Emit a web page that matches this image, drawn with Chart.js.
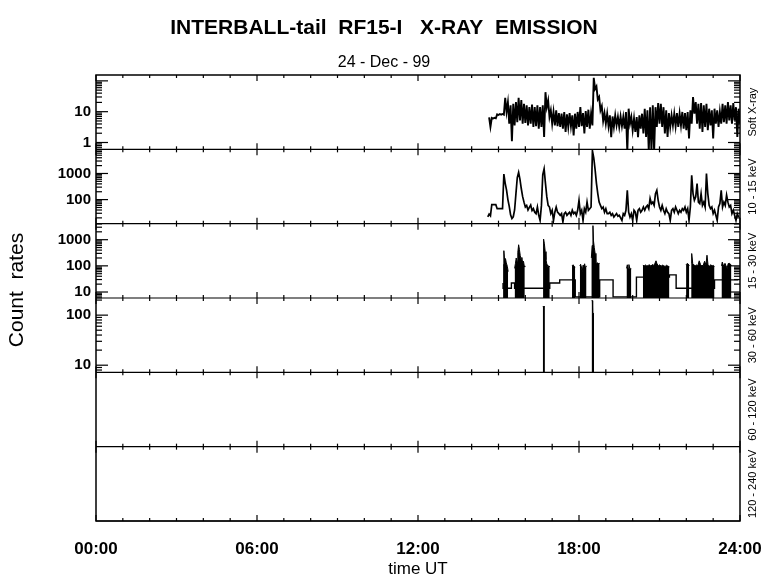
<!DOCTYPE html>
<html lang="en">
<head>
<meta charset="utf-8">
<title>INTERBALL-tail RF15-I X-RAY EMISSION</title>
<script src="https://cdn.jsdelivr.net/npm/chart.js@4.4.1/dist/chart.umd.min.js"></script>
<style>
  body { margin: 0; background: #fff; }
</style>
</head>
<body>
<canvas id="xray" width="780" height="579"></canvas>
<script>
// ---- data, time in hours UT ----
const hourTicks = [0, 6, 12, 18, 24];
const panelNames = ['Soft X-ray', '10 - 15 keV', '15 - 30 keV', '30 - 60 keV', '60 - 120 keV', '120 - 240 keV'];

// Soft X-ray: high / low swing of the noisy trace, every 0.1 h from 14.65
// (the low value is taken half a step later)
const sxStart = 14.65, sxStep = 0.1;
const sxUpper = [6.5, 6.3, 6.3, 8.2, 8.4, 8.4, 28, 20, 16, 18,
  20.5, 28, 24, 18, 16, 14, 17, 14, 16, 14,
  16, 43, 23, 11, 9.8, 11, 9, 8.6, 9.8, 8.2,
  9, 7.6, 8.6, 9.8, 14, 9, 10.5, 11.6, 8.6, 125,
  66, 30, 15, 9, 8.6, 7.6, 7, 7.6, 6.7, 7,
  6.7, 9.8, 12.5, 6.7, 6, 6.7, 7.6, 8.6, 12.5, 11,
  14, 16, 14, 19, 18, 14, 11, 9, 7.6, 8.6,
  9, 8.6, 9.8, 9, 9.8, 11, 30, 20.5, 18, 19,
  16, 18, 12.5, 11, 12.5, 11, 9.8, 18, 16, 20.5,
  16, 19, 14, 12.5];
const sxLower = [3.2, 6.0, 6.1, 7.8, 8.0, 8.0, 9.7, 4.1, 1.1, 3.6,
  4.6, 5.2, 4.1, 4.3, 3.6, 4.1, 3.2, 3.4, 2.8, 3.2,
  1.5, 14, 6.7, 4.1, 3.6, 3.4, 3.2, 2.8, 2.2, 3.2,
  3.4, 1.7, 2.8, 3.2, 3.4, 1.95, 3.2, 2.8, 3.6, 55,
  25, 11, 5, 4.1, 3.4, 1.5, 3.2, 3.6, 3.2, 3.4,
  2.8, 0.5, 4.1, 2.5, 2.2, 1.5, 2.8, 1.95, 1.5, 0.5,
  0.5, 0.5, 3.2, 4.1, 3.2, 1.95, 1.5, 3.2, 3.6, 3.4,
  3.2, 3.6, 2.8, 2.5, 1.35, 4.1, 8.6, 4.1, 2.8, 2.2,
  3.2, 2.5, 3.6, 1.35, 4.1, 3.2, 4.1, 4.6, 4.1, 5.2,
  4.1, 5.2, 1.5, 4.1];

// 10 - 15 keV, every 0.05 h from 14.60
const lowStart = 14.60, lowStep = 0.05;
const lowRate = [22, 28, 24, 64, 64, 64, 64, 45, 45, 45,
  45, 45, 950, 420, 230, 100, 55, 26, 19, 22,
  40, 170, 700, 1100, 600, 260, 130, 80, 52, 60,
  40, 50, 62, 38, 45, 33, 29, 52, 25, 16,
  60, 900, 1500, 420, 130, 60, 52, 29, 39, 16,
  33, 52, 33, 29, 25, 29, 14, 29, 33, 25,
  29, 33, 25, 39, 29, 33, 25, 39, 94, 29,
  39, 16, 45, 33, 80, 39, 45, 52, 7500, 4000,
  1400, 420, 170, 80, 60, 45, 52, 33, 45, 29,
  29, 33, 25, 29, 21.5, 25, 29, 23, 25, 20,
  16, 29, 25, 39, 228, 33, 21.5, 29, 16, 39,
  33, 16, 39, 45, 33, 39, 52, 39, 52, 60,
  45, 110, 70, 80, 60, 170, 228, 94, 52, 39,
  60, 39, 29, 45, 33, 29, 16, 39, 45, 33,
  52, 39, 29, 39, 33, 45, 39, 52, 33, 45,
  16, 52, 860, 170, 94, 127, 412, 80, 70, 170,
  60, 80, 52, 1000, 170, 60, 45, 52, 29, 39,
  25, 16, 52, 70, 228, 52, 80, 60, 148, 80,
  52, 60, 29, 39, 25, 16, 29, 21.5];

// 15 - 30 keV: tops of the dense bursts (null = gap) and the stepped background
const midBurstT = [15.17, 15.20, 15.23, 15.26, 15.29, 15.33, 15.36, null,
  15.60, 15.63, 15.66, 15.69, 15.72, 15.75, 15.78, 15.81, 15.84, 15.87, 15.90, 15.93, 15.96, 15.98, null,
  16.66, 16.68, 16.71, 16.74, 16.77, 16.80, 16.84, 16.88, 16.91, null,
  17.74, 17.78, 17.82, 17.86, null,
  18.03, 18.06, 18.09, 18.12, 18.15, 18.18, 18.21, 18.24, 18.28, null,
  18.46, 18.49, 18.52, 18.54, 18.57, 18.60, 18.63, 18.66, 18.70, 18.74, 18.77, null,
  19.77, 19.80, 19.83, 19.86, 19.89, 19.92, 19.95, null,
  20.38, 20.43, 20.48, 20.53, 20.58, 20.63, 20.68, 20.73, 20.78, 20.83, 20.87,
  20.91, 20.96, 21.01, 21.06, 21.11, 21.16, 21.21, 21.26, 21.31, 21.37, null,
  21.99, 22.03, 22.07, 22.11, null,
  22.18, 22.20, 22.24, 22.28, 22.33, 22.38, 22.43, 22.48, 22.53, 22.58, 22.63,
  22.68, 22.73, 22.77, 22.81, 22.86, 22.91, 22.96, 23.01, 23.05, null,
  23.31, 23.34, 23.37, 23.40, 23.44, 23.48, 23.52, 23.56, 23.60, 23.64, 23.68];
const midBurstV = [110, 380, 150, 190, 130, 95, 60, null,
  80, 120, 200, 150, 330, 640, 420, 250, 180, 210, 130, 150, 100, 90, null,
  300, 1060, 700, 350, 170, 120, 95, 100, 90, null,
  100, 110, 95, 90, null,
  100, 115, 90, 60, 105, 95, 120, 85, 100, null,
  200, 600, 3450, 900, 500, 300, 130, 125, 130, 120, 125, null,
  80, 110, 80, 112, 80, 80, 78, null,
  105, 100, 108, 98, 104, 110, 97, 112, 104, 125, 156,
  118, 100, 110, 96, 108, 100, 95, 105, 98, 92, null,
  110, 123, 118, 100, null,
  130, 296, 120, 110, 100, 108, 102, 156, 112, 100, 106,
  150, 110, 255, 105, 98, 110, 100, 104, 95, null,
  100, 140, 110, 95, 125, 100, 80, 122, 125, 118, 100];
const midStepT = [15.17, 15.48, 15.60, 16.91, 17.28, 17.86, 18.77, 19.27, 20.14, 21.37, 21.62, 23.05, 23.17, 23.94];
const midStepV = [22, 14, 22, 14, 22, 29, 6.5, 29, 6.5, 37, 45, 14, 29, 29];

// 30 - 60 keV: two short spikes
const hiT = [16.65, 16.73, null, 18.47, 18.50, 18.51, 18.56];
const hiV = [148, 148, null, 195, 195, 108, 108];

const FONT = "'Liberation Sans', Arial, Helvetica, sans-serif";

function grid(start, step, vals) {
  return vals.map((v, i) => ({ x: +(start + i * step).toFixed(2), y: v }));
}
function pairs(ts, vs) {
  return ts.map((t, i) => ({ x: t, y: vs[i] }));
}
// high value at each sample, low value half a step later
function swing(start, step, hi, lo) {
  const pts = [];
  hi.forEach((v, i) => {
    const t = start + i * step;
    pts.push({ x: +t.toFixed(3), y: v });
    pts.push({ x: +(t + step / 2).toFixed(3), y: lo[i] });
  });
  return pts;
}

function logAxis(min, max, labelled) {
  return {
    type: 'logarithmic', position: 'left', stack: 'panels', stackWeight: 1,
    min: min, max: max,
    grid: { display: false, drawTicks: false },
    border: { display: false },
    ticks: { color: '#000', font: { family: FONT, size: 15, weight: 'bold' }, padding: 5,
             autoSkip: false, callback: v => String(v) },
    afterBuildTicks: s => { s.ticks = labelled.map(v => ({ value: v })); },
    afterFit: s => { s.width = 96; }
  };
}
function emptyAxis() {
  return {
    type: 'linear', position: 'left', stack: 'panels', stackWeight: 1,
    min: 0, max: 1,
    grid: { display: false, drawTicks: false },
    border: { display: false },
    ticks: { display: false },
    afterFit: s => { s.width = 96; }
  };
}

const panelIds = ['p1', 'p2', 'p3', 'p4', 'p5', 'p6'];

const panelPlugin = {
  id: 'panels',
  beforeDatasetDraw(chart, args) {
    const s = chart.scales[args.meta.yAxisID];
    const a = chart.chartArea;
    chart.ctx.save();
    chart.ctx.beginPath();
    chart.ctx.rect(a.left, s.top, a.right - a.left, s.bottom - s.top);
    chart.ctx.clip();
  },
  afterDatasetDraw(chart) {
    chart.ctx.restore();
  },
  afterDatasetsDraw(chart) {
    const ctx = chart.ctx, a = chart.chartArea, xs = chart.scales.x;
    const seg = (x1, y1, x2, y2) => { ctx.beginPath(); ctx.moveTo(x1, y1); ctx.lineTo(x2, y2); ctx.stroke(); };
    ctx.save();
    ctx.strokeStyle = '#000';
    ctx.lineWidth = 1.5;
    ctx.strokeRect(a.left, a.top, a.right - a.left, a.bottom - a.top);
    ctx.lineWidth = 1.2;
    panelIds.forEach(id => {
      const s = chart.scales[id];
      seg(a.left, s.bottom, a.right, s.bottom);
      for (let h = 0; h <= 24; h++) {
        const x = xs.getPixelForValue(h);
        const len = h % 6 === 0 ? 6 : 3;
        seg(x, s.top, x, s.top + len);
        seg(x, s.bottom, x, s.bottom - len);
      }
      if (s.type === 'logarithmic') {
        const d0 = Math.floor(Math.log10(s.min)), d1 = Math.ceil(Math.log10(s.max));
        for (let d = d0; d <= d1; d++) {
          for (let k = 1; k <= 9; k++) {
            const v = k * Math.pow(10, d);
            if (v < s.min || v > s.max) continue;
            const y = s.getPixelForValue(v);
            const len = k === 1 ? 12 : 6;
            seg(a.left, y, a.left + len, y);
            seg(a.right - len, y, a.right, y);
          }
        }
      }
    });
    ctx.restore();
  },
  afterDraw(chart) {
    const ctx = chart.ctx, a = chart.chartArea;
    ctx.save();
    ctx.fillStyle = '#000';
    ctx.textAlign = 'center';
    ctx.textBaseline = 'middle';
    ctx.font = '21px ' + FONT;
    ctx.translate(17, 290);
    ctx.rotate(-Math.PI / 2);
    ctx.fillText('Count  rates', 0, 0);
    ctx.restore();
    panelIds.forEach((id, i) => {
      const s = chart.scales[id];
      ctx.save();
      ctx.fillStyle = '#000';
      ctx.textAlign = 'center';
      ctx.textBaseline = 'middle';
      ctx.font = '11px ' + FONT;
      ctx.translate(a.right + 13, (s.top + s.bottom) / 2);
      ctx.rotate(-Math.PI / 2);
      ctx.fillText(panelNames[i], 0, 0);
      ctx.restore();
    });
  }
};

const line = { borderColor: '#000', borderWidth: 1.2, pointRadius: 0, tension: 0, fill: false, spanGaps: false };

new Chart(document.getElementById('xray'), {
  type: 'line',
  data: {
    datasets: [
      Object.assign({}, line, { label: 'Soft X-ray', yAxisID: 'p1', data: swing(sxStart, sxStep, sxUpper, sxLower), borderWidth: 1.9 }),
      Object.assign({}, line, { label: '10 - 15 keV', yAxisID: 'p2', data: grid(lowStart, lowStep, lowRate), borderWidth: 1.7 }),
      Object.assign({}, line, { label: '15 - 30 keV bursts', yAxisID: 'p3', data: pairs(midBurstT, midBurstV), borderWidth: 1,
                                fill: 'start', backgroundColor: '#000' }),
      Object.assign({}, line, { label: '15 - 30 keV', yAxisID: 'p3', data: pairs(midStepT, midStepV), stepped: 'after', borderWidth: 1.4 }),
      Object.assign({}, line, { label: '30 - 60 keV', yAxisID: 'p4', data: pairs(hiT, hiV), borderWidth: 1,
                                fill: 'start', backgroundColor: '#000' })
    ]
  },
  options: {
    responsive: false,
    animation: false,
    events: [],
    layout: { padding: { left: 0, right: 12, top: 0, bottom: 0 } },
    plugins: {
      legend: { display: false },
      tooltip: { enabled: false },
      title: { display: true, text: 'INTERBALL-tail  RF15-I   X-RAY  EMISSION', color: '#000',
               font: { family: FONT, size: 21, weight: 'bold' }, padding: { top: 16, bottom: 0 } },
      subtitle: { display: true, text: '24 - Dec - 99', color: '#000',
                  font: { family: FONT, size: 16 }, padding: { top: 12, bottom: 2.6 } }
    },
    scales: {
      x: {
        type: 'linear', position: 'bottom', min: 0, max: 24,
        grid: { display: false, drawTicks: false },
        border: { display: false },
        afterBuildTicks: s => { s.ticks = hourTicks.map(v => ({ value: v })); },
        ticks: { color: '#000', font: { family: FONT, size: 17, weight: 'bold' }, padding: 18, maxRotation: 0, autoSkip: false,
                 callback: v => String(v).padStart(2, '0') + ':00' },
        title: { display: true, text: 'time UT', color: '#000', font: { family: FONT, size: 17, lineHeight: 1 },
                 padding: { top: 0, bottom: 1 } },
        afterFit: s => { s.height = 58; }
      },
      // empty right-hand strip that holds the channel names
      side: {
        type: 'linear', position: 'right', min: 0, max: 1,
        grid: { display: false, drawTicks: false },
        border: { display: false },
        ticks: { display: false },
        afterFit: s => { s.width = 28; }
      },
      p6: emptyAxis(),
      p5: emptyAxis(),
      p4: logAxis(7.2, 220, [10, 100]),
      p3: logAxis(5.9, 4100, [10, 100, 1000]),
      p2: logAxis(12, 8400, [100, 1000]),
      p1: logAxis(0.6, 155, [1, 10])
    }
  },
  plugins: [panelPlugin]
});
</script>
</body>
</html>
